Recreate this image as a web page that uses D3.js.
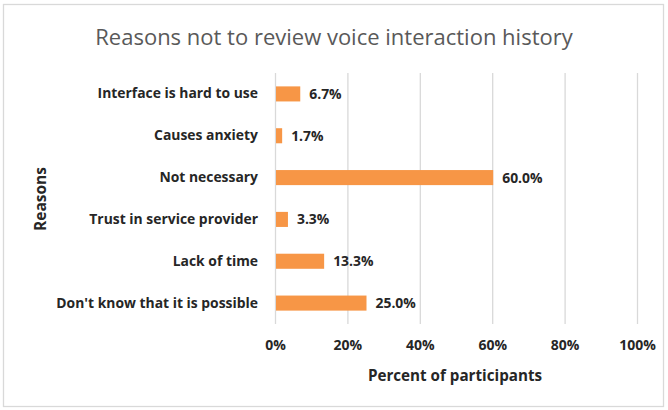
<!DOCTYPE html>
<html>
<head>
<meta charset="utf-8">
<script src="https://cdn.jsdelivr.net/npm/d3@7"></script>
<style>
  body { margin:0; background:#fff; }
  svg text { font-family: "Open Sans", "Noto Sans", sans-serif; }
</style>
</head>
<body>
<div id="chart"></div>
<script>
// data
const reasons = ["Interface is hard to use", "Causes anxiety", "Not necessary",
  "Trust in service provider", "Lack of time", "Don't know that it is possible"]
const percents = [6.7, 1.7, 60.0, 3.3, 13.3, 25.0]
const xTicks = [0, 20, 40, 60, 80, 100]

const W = 668, H = 410
const margin = { top: 73, left: 275, right: 31, bottom: 86 }

const svg = d3.select('#chart').append('svg')
  .attr('width', W).attr('height', H)

// chart border
svg.append('rect')
  .attr('x', 3.5).attr('y', 4.5).attr('width', 660).attr('height', 402)
  .attr('fill', '#fff').attr('stroke', '#d9d9d9').attr('stroke-width', 1.3)

svg.append('text')
  .attr('x', 334).attr('y', 45)
  .attr('text-anchor', 'middle')
  .attr('fill', '#595959')
  .style('font-size', '22px')
  .text('Reasons not to review voice interaction history')

const x = d3.scaleLinear().domain([0, 100]).range([margin.left, W - margin.right])
const y = d3.scaleBand().domain(reasons).range([margin.top, H - margin.bottom]).paddingInner(0.64).paddingOuter(0.32)

// gridlines
svg.append('g')
  .selectAll('line').data(xTicks).join('line')
  .attr('x1', d => x(d) + 0.5).attr('x2', d => x(d) + 0.5)
  .attr('y1', margin.top).attr('y2', H - margin.bottom)
  .attr('stroke', '#d9d9d9').attr('stroke-width', 1.3)

// x axis labels
const xAxis = svg.append('g')
  .attr('transform', `translate(0,${H - margin.bottom})`)
  .call(d3.axisBottom(x).tickValues(xTicks).tickFormat(d => d + '%').tickSize(0).tickPadding(16))
xAxis.select('.domain').remove()
xAxis.selectAll('text')
  .style('font-size', '14px').style('font-weight', 'bold').attr('fill', '#262626')

// category labels
const yAxis = svg.append('g')
  .attr('transform', `translate(${margin.left},0)`)
  .call(d3.axisLeft(y).tickSize(0).tickPadding(17))
yAxis.select('.domain').remove()
yAxis.selectAll('text')
  .style('font-size', '13.9px').style('font-weight', 'bold').attr('fill', '#262626')

// bars
svg.append('g')
  .selectAll('rect').data(reasons).join('rect')
  .attr('x', x(0) + 1)
  .attr('y', d => y(d))
  .attr('width', (d, i) => x(percents[i]) - x(0))
  .attr('height', y.bandwidth())
  .attr('fill', '#f79646')

// value labels
svg.append('g')
  .selectAll('text').data(reasons).join('text')
  .attr('x', (d, i) => x(percents[i]) + 10)
  .attr('y', d => y(d) + y.bandwidth() / 2)
  .attr('dy', '0.36em')
  .style('font-size', '13.9px').style('font-weight', 'bold').attr('fill', '#262626')
  .text((d, i) => percents[i].toFixed(1) + '%')

// axis titles
svg.append('text')
  .attr('x', 455).attr('y', 381)
  .attr('text-anchor', 'middle')
  .style('font-size', '15.2px').style('font-weight', 'bold').attr('fill', '#262626')
  .text('Percent of participants')

svg.append('text')
  .attr('transform', 'translate(46,199) rotate(-90)')
  .attr('text-anchor', 'middle')
  .style('font-size', '15.5px').style('font-weight', 'bold').attr('fill', '#262626')
  .text('Reasons')
</script>
</body>
</html>
